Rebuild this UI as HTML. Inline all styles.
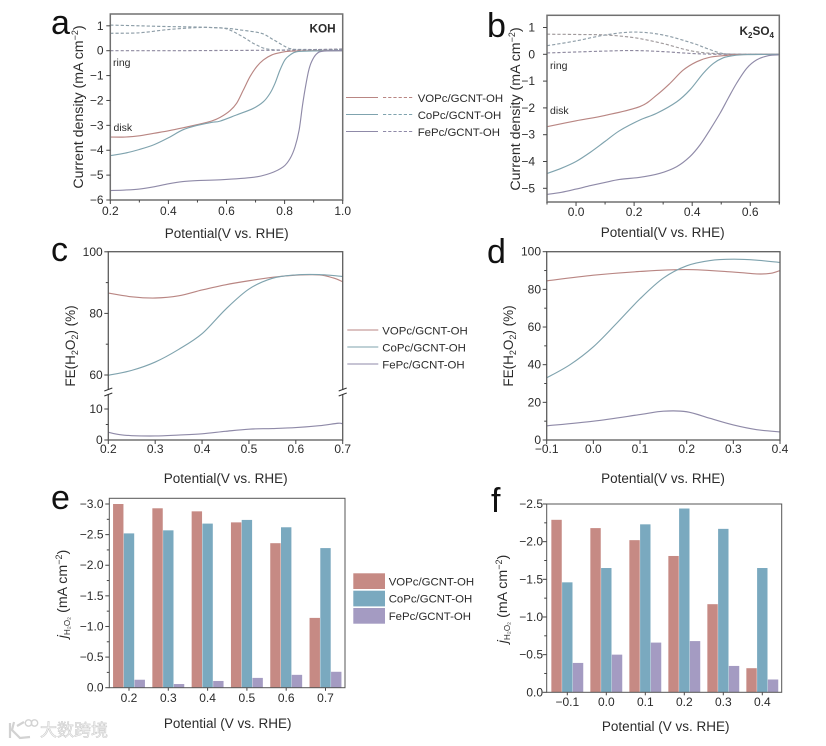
<!DOCTYPE html>
<html>
<head>
<meta charset="utf-8">
<title>Electrochemical H2O2 chart panels</title>
<style>
html,body{margin:0;padding:0;background:#fff;width:826px;height:746px;overflow:hidden}
svg{display:block;font-family:"Liberation Sans","Noto Sans CJK SC",sans-serif;fill:#2b2b2b;filter:blur(.3px)}
.tk{font-size:12px}
.ttl{font-size:13.5px}
.ttl2{font-size:14.2px}
.leg{font-size:11.4px}
.lab{font-size:34px;fill:#111}
.note{font-size:10.5px}
.sub{font-size:9px}
</style>
</head>
<body>
<svg id="fig" xmlns="http://www.w3.org/2000/svg" width="826" height="746" viewBox="0 0 826 746">
<rect width="826" height="746" fill="#fff"/>

<text class="lab" x="51" y="34">a</text>
<text class="lab" x="487" y="37">b</text>
<text class="lab" x="51" y="261">c</text>
<text class="lab" x="487" y="263">d</text>
<text class="lab" x="51" y="509">e</text>
<text class="lab" x="491" y="512">f</text>

<g id="a"></g>
<g id="b"></g>
<g id="c"></g>
<g id="d"></g>
<g id="e"></g>
<g id="f"></g>

<!-- axis titles -->
<text class="ttl" x="226.7" y="238" text-anchor="middle">Potential(V vs. RHE)</text>
<text class="ttl" x="662.7" y="237" text-anchor="middle">Potential(V vs. RHE)</text>
<text class="ttl" x="225.7" y="483" text-anchor="middle">Potential(V vs. RHE)</text>
<text class="ttl" x="663" y="483" text-anchor="middle">Potential(V vs. RHE)</text>
<text class="ttl" x="227.7" y="728" text-anchor="middle">Potential (V vs. RHE)</text>
<text class="ttl" x="665.7" y="731" text-anchor="middle">Potential (V vs. RHE)</text>

<text class="ttl2" transform="translate(83,107) rotate(-90)" text-anchor="middle">Current density (mA cm<tspan class="sub" dy="-5">−2</tspan><tspan dy="5">)</tspan></text>
<text class="ttl2" transform="translate(520,109) rotate(-90)" text-anchor="middle">Current density (mA cm<tspan class="sub" dy="-5">−2</tspan><tspan dy="5">)</tspan></text>
<text class="ttl" transform="translate(75,346) rotate(-90)" text-anchor="middle">FE(H<tspan class="sub" dy="3">2</tspan><tspan dy="-3">O</tspan><tspan class="sub" dy="3">2</tspan><tspan dy="-3">) (%)</tspan></text>
<text class="ttl" transform="translate(513,346) rotate(-90)" text-anchor="middle">FE(H<tspan class="sub" dy="3">2</tspan><tspan dy="-3">O</tspan><tspan class="sub" dy="3">2</tspan><tspan dy="-3">) (%)</tspan></text>
<text class="ttl2" transform="translate(67,594) rotate(-90)" text-anchor="middle"><tspan font-style="italic">j</tspan><tspan style="font-size:8px" dy="3">H₂O₂</tspan><tspan dy="-3"> (mA cm</tspan><tspan class="sub" dy="-5">−2</tspan><tspan dy="5">)</tspan></text>
<text class="ttl2" transform="translate(507,599) rotate(-90)" text-anchor="middle"><tspan font-style="italic">j</tspan><tspan style="font-size:8px" dy="3">H₂O₂</tspan><tspan dy="-3"> (mA cm</tspan><tspan class="sub" dy="-5">−2</tspan><tspan dy="5">)</tspan></text>

<!-- annotations -->
<text x="335.7" y="32.7" text-anchor="end" font-weight="bold" font-size="11.8">KOH</text>
<text x="774" y="35" text-anchor="end" font-weight="bold" font-size="11.8">K<tspan font-size="8" dy="3">2</tspan><tspan dy="-3">SO</tspan><tspan font-size="8" dy="3">4</tspan></text>
<text class="note" x="113" y="66">ring</text>
<text class="note" x="113.5" y="131">disk</text>
<text class="note" x="550" y="69">ring</text>
<text class="note" x="550" y="114">disk</text>

<!-- legend a/b -->
<g fill="none" stroke-width="1.1">
<line x1="346" y1="97.5" x2="378" y2="97.5" stroke="#b98683"/>
<line x1="383" y1="97.5" x2="413" y2="97.5" stroke="#b98683" stroke-dasharray="3.2 2"/>
<line x1="346" y1="114.5" x2="378" y2="114.5" stroke="#7fa3ae"/>
<line x1="383" y1="114.5" x2="413" y2="114.5" stroke="#7fa3ae" stroke-dasharray="3.2 2"/>
<line x1="346" y1="131.5" x2="378" y2="131.5" stroke="#8f8aa8"/>
<line x1="383" y1="131.5" x2="413" y2="131.5" stroke="#8f8aa8" stroke-dasharray="3.2 2"/>
</g>
<text class="leg" x="417.7" y="102">VOPc/GCNT-OH</text>
<text class="leg" x="417.7" y="119">CoPc/GCNT-OH</text>
<text class="leg" x="417.7" y="136">FePc/GCNT-OH</text>

<!-- legend c -->
<g fill="none" stroke-width="1.1">
<line x1="347.3" y1="330" x2="378.3" y2="330" stroke="#b98683"/>
<line x1="347.3" y1="347" x2="378.3" y2="347" stroke="#7fa3ae"/>
<line x1="347.3" y1="364" x2="378.3" y2="364" stroke="#8f8aa8"/>
</g>
<text class="leg" x="382.3" y="334.5">VOPc/GCNT-OH</text>
<text class="leg" x="382.3" y="351.5">CoPc/GCNT-OH</text>
<text class="leg" x="382.3" y="368.5">FePc/GCNT-OH</text>

<!-- legend e -->
<rect x="353.3" y="573.3" width="31.7" height="15.7" fill="#c68a84"/>
<rect x="353.3" y="590.7" width="31.7" height="15.7" fill="#7aa9bf"/>
<rect x="353.3" y="608" width="31.7" height="15.7" fill="#a49bc2"/>
<text class="leg" x="388.7" y="585.5">VOPc/GCNT-OH</text>
<text class="leg" x="388.7" y="602.5">CoPc/GCNT-OH</text>
<text class="leg" x="388.7" y="620">FePc/GCNT-OH</text>

<!-- watermark -->
<g>
<path d="M10 723 L10 738 M14 722 L12 730 L20 738 L30 737 M17 726 L24 722" fill="none" stroke="#d2d2d2" stroke-width="2.2"/>
<circle cx="28.5" cy="723" r="3.2" fill="none" stroke="#d2d2d2" stroke-width="1.4"/>
<circle cx="34.5" cy="723" r="3.2" fill="none" stroke="#d2d2d2" stroke-width="1.4"/>
<text x="40" y="736" font-size="17" style="fill:#f6f6f6;stroke:#cdcdcd;stroke-width:.6">大数跨境</text>
</g>
</svg>

<script>
// ===== Panel a: KOH RRDE =====
const aVoDiskX = [0.2,0.25,0.3,0.35,0.4,0.45,0.5,0.55,0.578,0.612,0.635,0.658,0.681,0.704,0.727,0.756,0.784,0.819,0.9,1.0];
const aVoDiskY = [-3.47,-3.47,-3.42,-3.32,-3.22,-3.1,-2.97,-2.82,-2.68,-2.41,-2.11,-1.58,-1.04,-0.64,-0.37,-0.17,-0.08,-0.02,0,0];
const aCoDiskX = [0.2,0.25,0.3,0.35,0.4,0.45,0.5,0.55,0.578,0.635,0.692,0.727,0.75,0.767,0.784,0.801,0.819,0.842,0.9,1.0];
const aCoDiskY = [-4.22,-4.12,-3.97,-3.78,-3.5,-3.18,-3.0,-2.88,-2.83,-2.58,-2.32,-2.05,-1.71,-1.31,-0.78,-0.37,-0.17,-0.04,-0.01,0];
const aFeDiskX = [0.2,0.25,0.3,0.35,0.4,0.45,0.5,0.578,0.692,0.75,0.796,0.819,0.836,0.85,0.861,0.87,0.882,0.893,0.91,0.933,1.0];
const aFeDiskY = [-5.62,-5.6,-5.56,-5.47,-5.35,-5.26,-5.22,-5.19,-5.09,-4.93,-4.66,-4.33,-3.86,-3.19,-2.25,-1.58,-0.84,-0.44,-0.13,-0.02,0];
const aVoRingX = [0.2,0.3,0.4,0.5,0.55,0.6,0.65,0.7,0.75,0.85,1.0];
const aVoRingY = [0.7,0.72,0.85,0.93,0.93,0.88,0.6,0.25,0.05,0.03,0.03];
const aCoRingX = [0.2,0.3,0.4,0.5,0.6,0.65,0.72,0.76,0.8,0.82,0.85,1.0];
const aCoRingY = [1.03,1.0,0.97,0.95,0.9,0.83,0.7,0.45,0.18,0.08,0.05,0.05];
const aFeRingX = [0.2,0.4,0.6,0.8,0.9,1.0];
const aFeRingY = [0.0,0.0,0.01,0.02,0.04,0.07];
const aXTicks = [0.2,0.4,0.6,0.8,1.0];
const aXMinor = [0.3,0.5,0.7,0.9];
const aXLabels = ["0.2","0.4","0.6","0.8","1.0"];
const aYTicks = [1,0,-1,-2,-3,-4,-5,-6];
const aYLabels = ["1","0","−1","−2","−3","−4","−5","−6"];

// ===== Panel b: K2SO4 RRDE =====
const bVoDiskX = [-0.1,0,0.1,0.22,0.278,0.324,0.369,0.415,0.461,0.519,0.56,0.7];
const bVoDiskY = [-2.7,-2.48,-2.28,-1.95,-1.52,-1.08,-0.59,-0.28,-0.11,-0.04,-0.01,0];
const bCoDiskX = [-0.1,-0.05,0,0.05,0.1,0.15,0.22,0.278,0.347,0.392,0.438,0.473,0.507,0.54,0.59,0.7];
const bCoDiskY = [-4.45,-4.25,-4.0,-3.65,-3.25,-2.85,-2.45,-2.2,-1.77,-1.33,-0.71,-0.34,-0.13,-0.05,-0.01,0];
const bFeDiskX = [-0.1,-0.05,0,0.05,0.1,0.15,0.22,0.289,0.347,0.392,0.427,0.461,0.496,0.524,0.553,0.588,0.622,0.662,0.7];
const bFeDiskY = [-5.23,-5.15,-5.03,-4.9,-4.78,-4.67,-4.59,-4.44,-4.19,-3.82,-3.38,-2.82,-2.2,-1.64,-1.08,-0.52,-0.21,-0.05,-0.02];
const bVoRingX = [-0.1,0,0.1,0.2,0.3,0.4,0.5,0.7];
const bVoRingY = [0.75,0.74,0.72,0.62,0.4,0.12,0.02,0];
const bCoRingX = [-0.1,0,0.1,0.2,0.3,0.4,0.45,0.5,0.55,0.7];
const bCoRingY = [0.32,0.5,0.72,0.83,0.72,0.42,0.22,0.04,0,0];
const bFeRingX = [-0.1,0.1,0.2,0.3,0.4,0.5,0.7];
const bFeRingY = [0.05,0.12,0.14,0.1,0.03,0,0];
const bXTicks = [0,0.2,0.4,0.6];
const bXMinor = [-0.1,0.1,0.3,0.5,0.7];
const bXLabels = ["0.0","0.2","0.4","0.6"];
const bYTicks = [1,0,-1,-2,-3,-4,-5];
const bYLabels = ["1","0","−1","−2","−3","−4","−5"];

// ===== Panel c: FE in KOH (broken axis) =====
const cVoX = [0.2,0.25,0.3,0.35,0.4,0.45,0.5,0.55,0.6,0.65,0.68,0.7];
const cVoY = [86.6,85.4,85,85.7,87.6,89.3,90.6,91.7,92.4,92.5,91.5,90.3];
const cCoX = [0.2,0.25,0.3,0.35,0.4,0.45,0.5,0.55,0.6,0.65,0.7];
const cCoY = [59.9,61.5,64.2,68.3,73.4,81.3,87.9,91.4,92.5,92.6,92];
const cFeX = [0.2,0.225,0.25,0.3,0.35,0.4,0.45,0.5,0.55,0.6,0.65,0.69,0.7];
const cFeY = [2.5,1.7,1.4,1.3,1.6,2.0,2.8,3.5,3.7,4,4.6,5.4,5.2];
const cXTicks = [0.2,0.3,0.4,0.5,0.6,0.7];
const cXLabels = ["0.2","0.3","0.4","0.5","0.6","0.7"];
const cYTicks = [100,80,60,10,0];
const cYMinor = [90,70,5];
const cYLabels = ["100","80","60","10","0"];

// ===== Panel d: FE in K2SO4 =====
const dVoX = [-0.1,0,0.1,0.2,0.3,0.35,0.38,0.4];
const dVoY = [84.5,87.5,89.5,90.5,89.2,88.2,88.5,90];
const dCoX = [-0.1,-0.05,0,0.05,0.1,0.15,0.2,0.25,0.3,0.35,0.4];
const dCoY = [33,40,49.5,62,75,86,92.5,95.3,96,95.5,94.3];
const dFeX = [-0.1,0,0.1,0.15,0.2,0.25,0.3,0.35,0.4];
const dFeY = [7.5,10,13.5,15.3,15,11.5,8,5.5,4.3];
const dXTicks = [-0.1,0,0.1,0.2,0.3,0.4];
const dXLabels = ["−0.1","0.0","0.1","0.2","0.3","0.4"];
const dYTicks = [100,80,60,40,20,0];
const dYMinor = [90,70,50,30,10];
const dYLabels = ["100","80","60","40","20","0"];

// ===== Panel e: bars in KOH =====
const eCategories = ["0.2","0.3","0.4","0.5","0.6","0.7"];
const eVo = [3.0,2.93,2.88,2.7,2.36,1.14];
const eCo = [2.52,2.57,2.68,2.74,2.62,2.28];
const eFe = [0.13,0.06,0.11,0.16,0.21,0.26];
const eYTicks = [3,2.5,2,1.5,1,0.5,0];
const eYMinor = [2.75,2.25,1.75,1.25,0.75,0.25];
const eYLabels = ["−3.0","−2.5","−2.0","−1.5","−1.0","−0.5","0.0"];

// ===== Panel f: bars in K2SO4 =====
const fCategories = ["−0.1","0.0","0.1","0.2","0.3","0.4"];
const fVo = [2.29,2.18,2.02,1.81,1.17,0.32];
const fCo = [1.46,1.65,2.23,2.44,2.17,1.65];
const fFe = [0.39,0.5,0.66,0.68,0.35,0.17];
const fYTicks = [2.5,2,1.5,1,0.5,0];
const fYMinor = [2.25,1.75,1.25,0.75,0.25];
const fYLabels = ["−2.5","−2.0","−1.5","−1.0","−0.5","0.0"];

const VO = "#b98683", CO = "#7fa3ae", FE = "#8f8aa8";
const NS = "http://www.w3.org/2000/svg";

function linear(d0, d1, r0, r1) {
  return function (v) { return r0 + (v - d0) * (r1 - r0) / (d1 - d0); };
}
function mk(parent, tag, name, props) {
  const el = document.createElementNS(NS, tag);
  
  
  for (const k in props) el.setAttribute(k, props[k]);
  parent.appendChild(el);
  return el;
}
function curve(parent, name, xs, ys, sx, sy, color, dashed) {
  const p = xs.map(function (x, i) { return [sx(x), sy(ys[i])]; });
  let d = "M" + p[0][0].toFixed(2) + " " + p[0][1].toFixed(2);
  for (let i = 0; i < p.length - 1; i++) {
    const a = p[Math.max(i - 1, 0)], b = p[i], c = p[i + 1], e = p[Math.min(i + 2, p.length - 1)];
    const c1 = [b[0] + (c[0] - a[0]) / 6, b[1] + (c[1] - a[1]) / 6];
    const c2 = [c[0] - (e[0] - b[0]) / 6, c[1] - (e[1] - b[1]) / 6];
    d += "C" + c1[0].toFixed(2) + " " + c1[1].toFixed(2) + " " + c2[0].toFixed(2) + " " + c2[1].toFixed(2) + " " + c[0].toFixed(2) + " " + c[1].toFixed(2);
  }
  const props = { d: d, fill: "none", stroke: color, "stroke-width": 1.15 };
  if (dashed) props["stroke-dasharray"] = "3.2 2";
  mk(parent, "path", name, props);
}
function frame(parent, pid, x0, y0, x1, y1, col, w) {
  mk(parent, "rect", pid + "-plot-frame", { x: x0, y: y0, width: x1 - x0, height: y1 - y0, fill: "none", stroke: col, "stroke-width": w });
}
function xAxis(parent, pid, ticks, labels, sx, y1, baseline, minor) {
  ticks.forEach(function (t, i) {
    mk(parent, "line", pid + "-x-tick", { x1: sx(t), x2: sx(t), y1: y1, y2: y1 + 4, stroke: "#444", "stroke-width": 1 });
    const el = mk(parent, "text", pid + "-x-tick-label", { class: "tk", x: sx(t), y: baseline, "text-anchor": "middle" });
    el.textContent = labels[i];
  });
  (minor || []).forEach(function (t) {
    mk(parent, "line", pid + "-x-minor-tick", { x1: sx(t), x2: sx(t), y1: y1, y2: y1 + 2.5, stroke: "#444", "stroke-width": 1 });
  });
}
function yAxis(parent, pid, ticks, labels, sy, x0, right, minor) {
  ticks.forEach(function (t, i) {
    mk(parent, "line", pid + "-y-tick", { x1: x0 - 4, x2: x0, y1: sy(t), y2: sy(t), stroke: "#444", "stroke-width": 1 });
    const el = mk(parent, "text", pid + "-y-tick-label", { class: "tk", x: right, y: sy(t) + 4, "text-anchor": "end" });
    el.textContent = labels[i];
  });
  (minor || []).forEach(function (t) {
    mk(parent, "line", pid + "-y-minor-tick", { x1: x0 - 2.5, x2: x0, y1: sy(t), y2: sy(t), stroke: "#444", "stroke-width": 1 });
  });
}
function bars(parent, pid, cats, vo, co, fe, center, sy, base, x1, labelY) {
  const w = 10.4, step = 10.75;
  const series = [[vo, "#c68a84", "vopc"], [co, "#7aa9bf", "copc"], [fe, "#a49bc2", "fepc"]];
  cats.forEach(function (c, i) {
    series.forEach(function (s, j) {
      const top = sy(s[0][i]);
      mk(parent, "rect", pid + "-bar-" + s[2], { x: center(i) + (j - 1) * step - w / 2, y: top, width: w, height: base - top, fill: s[1] });
    });
    mk(parent, "line", pid + "-x-tick", { x1: center(i), x2: center(i), y1: base, y2: base + 3, stroke: "#444", "stroke-width": 1 });
    const el = mk(parent, "text", pid + "-x-tick-label", { class: "tk", x: center(i), y: labelY, "text-anchor": "middle" });
    el.textContent = c;
  });
}

// Panel a
(function () {
  const g = document.getElementById("a");
  const sx = linear(0.2, 1.0, 110.3, 342.7), sy = linear(0, -6, 50.7, 200);
  curve(g, "ring-curve-copc", aCoRingX, aCoRingY, sx, sy, "#8a9ca6", true);
  curve(g, "ring-curve-vopc", aVoRingX, aVoRingY, sx, sy, "#8f9ea8", true);
  curve(g, "ring-curve-fepc", aFeRingX, aFeRingY, sx, sy, "#8f8aa0", true);
  curve(g, "disk-curve-vopc", aVoDiskX, aVoDiskY, sx, sy, VO);
  curve(g, "disk-curve-copc", aCoDiskX, aCoDiskY, sx, sy, CO);
  curve(g, "disk-curve-fepc", aFeDiskX, aFeDiskY, sx, sy, FE);
  frame(g, "panel-a", 110.3, 14, 342.7, 200, "#707070", 1.5);
  xAxis(g, "panel-a", aXTicks, aXLabels, sx, 200, 215, aXMinor);
  yAxis(g, "panel-a", aYTicks, aYLabels, sy, 110.3, 103.5);
})();

// Panel b
(function () {
  const g = document.getElementById("b");
  const sx = linear(-0.1, 0.7, 547, 779.3), sy = linear(0, -5, 54.3, 188.3);
  curve(g, "ring-curve-vopc", bVoRingX, bVoRingY, sx, sy, "#a09a9c", true);
  curve(g, "ring-curve-copc", bCoRingX, bCoRingY, sx, sy, "#8f9ea8", true);
  curve(g, "ring-curve-fepc", bFeRingX, bFeRingY, sx, sy, "#8f8aa0", true);
  curve(g, "disk-curve-vopc", bVoDiskX, bVoDiskY, sx, sy, VO);
  curve(g, "disk-curve-copc", bCoDiskX, bCoDiskY, sx, sy, CO);
  curve(g, "disk-curve-fepc", bFeDiskX, bFeDiskY, sx, sy, FE);
  frame(g, "panel-b", 547, 15.3, 779.3, 202, "#707070", 1.5);
  xAxis(g, "panel-b", bXTicks, bXLabels, sx, 202, 216, bXMinor);
  yAxis(g, "panel-b", bYTicks, bYLabels, sy, 547, 535);
})();

// Panel c
(function () {
  const g = document.getElementById("c");
  const sx = linear(0.2, 0.7, 108.3, 342.7);
  const sy = function (v) { return v >= 30 ? 375 - (v - 60) * 3.08 : 440 - v * 3.1; };
  curve(g, "fe-curve-vopc", cVoX, cVoY, sx, sy, VO);
  curve(g, "fe-curve-copc", cCoX, cCoY, sx, sy, CO);
  curve(g, "fe-curve-fepc", cFeX, cFeY, sx, sy, FE);
  frame(g, "panel-c", 108.3, 251.7, 342.7, 440, "#5c5c5c", 1.3);
  [108.3, 342.7].forEach(function (x) {
    mk(g, "rect", "axis-break-gap", { x: x - 2, y: 390, width: 4, height: 4, fill: "#fff" });
    mk(g, "line", "axis-break-mark", { x1: x - 4, y1: 391, x2: x + 4, y2: 388, stroke: "#333", "stroke-width": 1 });
    mk(g, "line", "axis-break-mark", { x1: x - 4, y1: 396, x2: x + 4, y2: 393, stroke: "#333", "stroke-width": 1 });
  });
  xAxis(g, "panel-c", cXTicks, cXLabels, sx, 440, 453);
  yAxis(g, "panel-c", cYTicks, cYLabels, sy, 108.3, 102.7, cYMinor);
})();

// Panel d
(function () {
  const g = document.getElementById("d");
  const sx = linear(-0.1, 0.4, 546.7, 780), sy = linear(0, 100, 440, 251.7);
  curve(g, "fe-curve-vopc", dVoX, dVoY, sx, sy, VO);
  curve(g, "fe-curve-copc", dCoX, dCoY, sx, sy, CO);
  curve(g, "fe-curve-fepc", dFeX, dFeY, sx, sy, FE);
  frame(g, "panel-d", 546.7, 251.7, 780, 440, "#5c5c5c", 1.3);
  xAxis(g, "panel-d", dXTicks, dXLabels, sx, 440, 453);
  yAxis(g, "panel-d", dYTicks, dYLabels, sy, 546.7, 541, dYMinor);
})();

// Panel e
(function () {
  const g = document.getElementById("e");
  const sy = linear(0, 3, 687.7, 504);
  const center = linear(0, 5, 129, 325.5);
  bars(g, "panel-e", eCategories, eVo, eCo, eFe, center, sy, 687.7, 345, 702);
  frame(g, "panel-e", 109.3, 498.3, 345, 687.7, "#555", 1);
  yAxis(g, "panel-e", eYTicks, eYLabels, sy, 109.3, 103.5, eYMinor);
})();

// Panel f
(function () {
  const g = document.getElementById("f");
  const sy = linear(0, 2.5, 692.3, 504);
  const center = linear(0, 5, 567.3, 762.3);
  bars(g, "panel-f", fCategories, fVo, fCo, fFe, center, sy, 692.3, 781.7, 706);
  frame(g, "panel-f", 546.7, 504, 781.7, 692.3, "#555", 1);
  yAxis(g, "panel-f", fYTicks, fYLabels, sy, 546.7, 543, fYMinor);
})();
</script>
</body>
</html>
